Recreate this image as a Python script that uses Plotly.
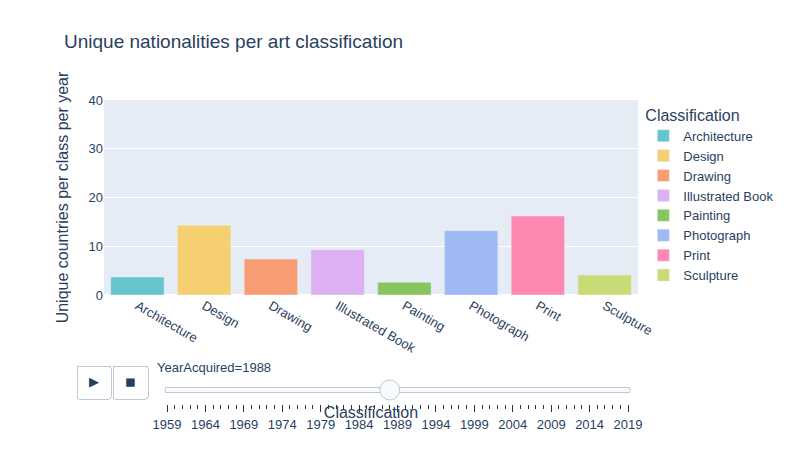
import plotly.graph_objects as go

classes = ["Architecture", "Design", "Drawing", "Illustrated Book",
           "Painting", "Photograph", "Print", "Sculpture"]
values_1988 = [3.7, 14.3, 7.4, 9.3, 2.6, 13.2, 16.2, 4.1]
colors = ["#66C5CC", "#F6CF71", "#F89C74", "#DCB0F2",
          "#87C55F", "#9EB9F3", "#FE88B1", "#C9DB74"]
years = list(range(1959, 2020))
current_year = 1988


def make_traces(vals):
    return [go.Bar(x=[c], y=[v], name=c, marker_color=col, legendgroup=c,
                   showlegend=True)
            for c, v, col in zip(classes, vals, colors)]


fig = go.Figure(data=make_traces(values_1988))
fig.frames = [go.Frame(name=str(current_year), data=make_traces(values_1988))]

steps = []
for y in years:
    steps.append(dict(
        method="animate", label=str(y),
        args=[[str(y)], dict(mode="immediate", frame=dict(duration=0, redraw=True),
                             transition=dict(duration=0))]))

fig.update_layout(
    title=dict(text="Unique nationalities per art classification", font=dict(size=19),
               x=0.07, y=0.94),
    template="plotly",
    width=800, height=451,
    font=dict(family="Liberation Sans, Arial, sans-serif", size=13),
    barmode="relative",
    legend=dict(title="Classification", tracegroupgap=0, x=1.01, y=1),
    xaxis=dict(title=dict(text="Classification", standoff=52),
               categoryorder="array", categoryarray=classes,
               tickangle=30, automargin=False),
    yaxis=dict(title="Unique countries per class per year", range=[0, 40]),
    margin=dict(t=92, b=164, l=96, r=170),
    updatemenus=[dict(
        type="buttons", direction="left", showactive=False,
        x=0.1, y=0, xanchor="right", yanchor="top", pad=dict(r=10, t=70),
        buttons=[
            dict(label="&#9654;", method="animate",
                 args=[None, dict(frame=dict(duration=500, redraw=True),
                                  mode="immediate", fromcurrent=True,
                                  transition=dict(duration=500, easing="linear"))]),
            dict(label="&#9724;", method="animate",
                 args=[[None], dict(frame=dict(duration=0, redraw=True),
                                    mode="immediate",
                                    transition=dict(duration=0))]),
        ])],
    sliders=[dict(
        active=years.index(current_year),
        currentvalue=dict(prefix="YearAcquired="),
        len=0.9, x=0.1, y=0, xanchor="left", yanchor="top",
        pad=dict(b=10, t=60),
        steps=steps)],
)

fig.write_html("out.html")
